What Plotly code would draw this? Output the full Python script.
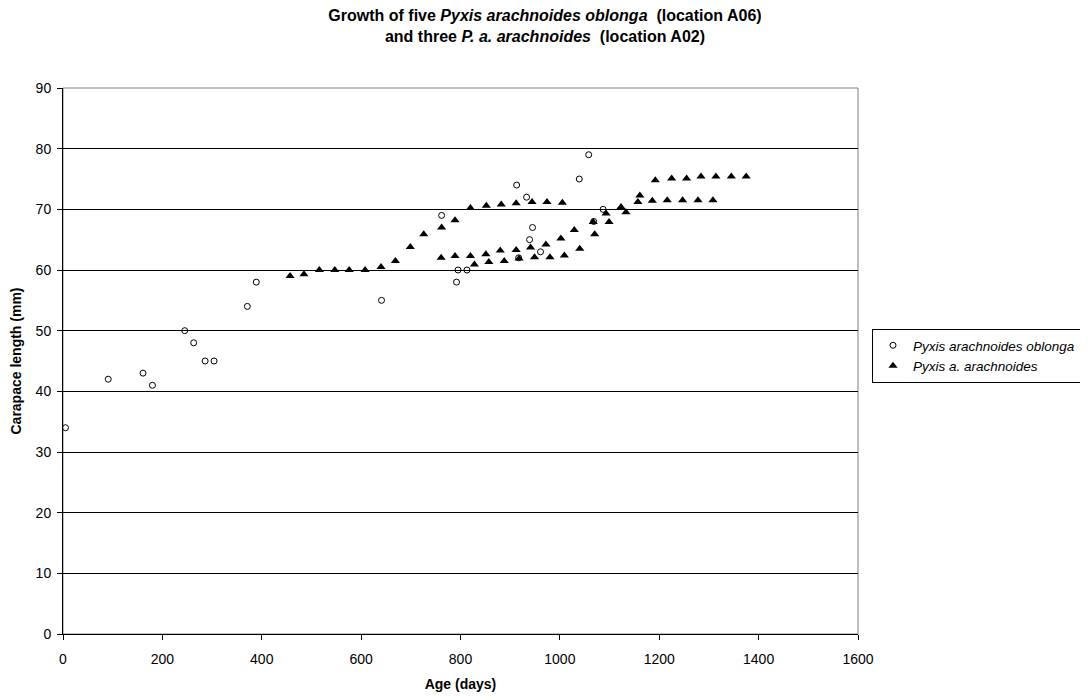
import plotly.graph_objects as go

# Pyxis arachnoides oblonga (open circles)
oblonga_age = [5, 91, 161, 180, 245, 263, 286, 304, 371, 389, 641, 762, 792, 795,
               813, 913, 917, 933, 939, 945, 961, 1039, 1058, 1068, 1087]
oblonga_len = [34, 42, 43, 41, 50, 48, 45, 45, 54, 58, 55, 69, 58, 60,
               60, 74, 62, 72, 65, 67, 63, 75, 79, 68, 70]

# Pyxis a. arachnoides (filled triangles)
arach_age = [457, 485, 516, 547, 576, 608, 640, 669, 699, 726, 762, 789, 820, 852,
             882, 912, 944, 974, 1005,
             761, 789, 820, 851, 880, 912, 941, 972, 1002, 1029, 1067, 1093, 1123,
             1157, 1186, 1216, 1247, 1278, 1308,
             828, 857, 888, 918, 949, 980, 1009, 1040, 1070, 1099, 1133, 1161, 1192,
             1225, 1255, 1284, 1314, 1345, 1375]
arach_len = [59.0, 59.3, 60.0, 60.0, 60.0, 60.0, 60.5, 61.5, 63.8, 65.9, 67.0, 68.2, 70.2, 70.6,
             70.8, 71.0, 71.2, 71.2, 71.1,
             62.0, 62.3, 62.3, 62.6, 63.2, 63.3, 63.7, 64.2, 65.2, 66.6, 67.9, 69.3, 70.4,
             71.2, 71.4, 71.5, 71.5, 71.5, 71.5,
             60.9, 61.3, 61.5, 61.9, 62.1, 62.1, 62.4, 63.5, 65.9, 67.9, 69.5, 72.3, 74.8,
             75.1, 75.1, 75.4, 75.4, 75.4, 75.4]

x_ticks = [0, 200, 400, 600, 800, 1000, 1200, 1400, 1600]
y_ticks = [0, 10, 20, 30, 40, 50, 60, 70, 80, 90]

FONT = "Liberation Sans, Arial, sans-serif"
FS = 14

fig = go.Figure()
fig.add_trace(go.Scatter(
    x=oblonga_age, y=oblonga_len, mode="markers",
    name="<i>Pyxis arachnoides oblonga</i>",
    marker=dict(symbol="circle-open", size=6, color="black", line=dict(width=1, color="black")),
))
fig.add_trace(go.Scatter(
    x=arach_age, y=arach_len, mode="markers",
    name="<i>Pyxis a. arachnoides</i>",
    marker=dict(symbol="triangle-up", size=8, color="black"),
))

# page has an 8px body margin, so the figure is 8px smaller on each axis
W, H = 1080, 690
L, R, T, B = 55, 230, 80, 64

fig.update_layout(
    width=W, height=H,
    paper_bgcolor="white", plot_bgcolor="white",
    font=dict(family=FONT, size=FS, color="black"),
    margin=dict(l=L, r=R, t=T, b=B, autoexpand=False),
    title=dict(
        text="<b>Growth of five <i>Pyxis arachnoides oblonga</i>  (location A06)<br>"
             "and three <i>P. a. arachnoides</i>  (location A02)</b>",
        x=537 / W, xanchor="center",
        y=1 - 13 / H, yanchor="top",
        font=dict(family=FONT, size=16, color="black"),
    ),
    showlegend=True,
    legend=dict(
        x=(864 - L) / (W - L - R), y=(626 - 321) / (H - T - B),
        xanchor="left", yanchor="top",
        bordercolor="black", borderwidth=1, bgcolor="white",
        font=dict(family=FONT, size=13.5, color="black"),
        tracegroupgap=0, itemwidth=30,
    ),
)

fig.update_xaxes(
    range=[0, 1600], tickvals=x_ticks, ticktext=[str(v) for v in x_ticks],
    showgrid=False, zeroline=False,
    showline=True, linecolor="black", linewidth=1,
    ticks="outside", ticklen=5, tickcolor="black", ticklabelstandoff=7,
    title=dict(text="<b>Age (days)</b>", font=dict(family=FONT, size=FS), standoff=13),
)
fig.update_yaxes(
    range=[0, 90], tickvals=y_ticks, ticktext=[str(v) for v in y_ticks],
    showgrid=True, gridcolor="black", gridwidth=1, zeroline=False,
    showline=True, linecolor="black", linewidth=1,
    ticks="outside", ticklen=5, tickcolor="black", ticklabelstandoff=3,
    title=dict(text="<b>Carapace length (mm)</b>", font=dict(family=FONT, size=FS), standoff=10),
)

# Gray plot-area border (top and right)
fig.add_shape(type="rect", xref="paper", yref="paper", x0=0, y0=0, x1=1, y1=1,
              line=dict(color="#808080", width=1), layer="below")

fig.write_html("out.html")
